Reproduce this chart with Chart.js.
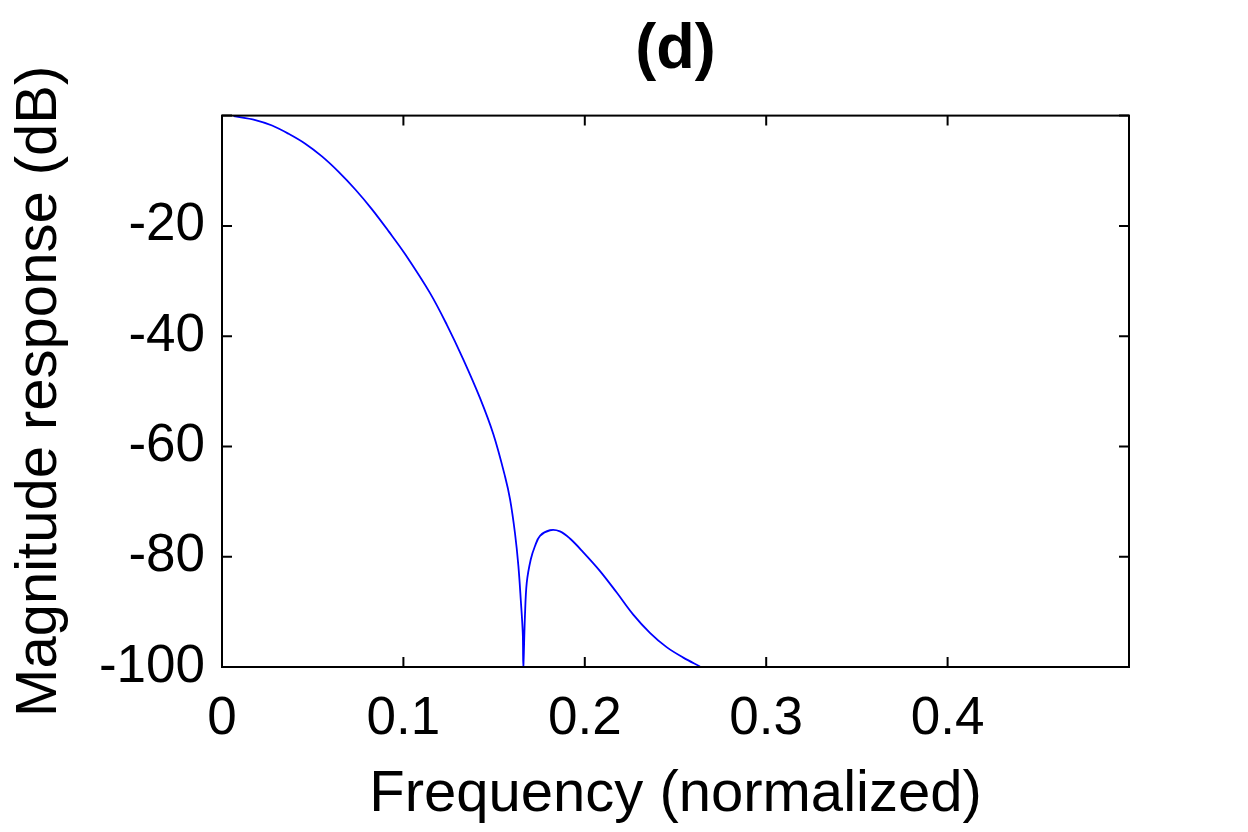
<!DOCTYPE html>
<html>
<head>
<meta charset="utf-8">
<script src="https://cdn.jsdelivr.net/npm/chart.js@4/dist/chart.umd.min.js"></script>
<style>
  html, body { margin: 0; padding: 0; background: #fff; }
  #wrap { width: 1248px; height: 832px; position: relative; }
</style>
</head>
<body>
<div id="wrap"><canvas id="chart"></canvas></div>
<script>
// values
const freqs = [0.0064, 0.0184, 0.0276, 0.0367, 0.0459, 0.0551, 0.0643, 0.0735, 0.0827, 0.0919,
  0.1011, 0.1147, 0.1239, 0.133, 0.1422, 0.1496, 0.156, 0.1588, 0.1615,
  0.1634, 0.1647, 0.1658, 0.1661, 0.167, 0.168, 0.1702, 0.1725, 0.1753, 0.1808,
  0.1863, 0.1918, 0.1992, 0.2084, 0.2176, 0.2267, 0.2359, 0.2451, 0.2543, 0.2635];
const magnitudeDb = [-0.1, -0.8, -1.8, -3.3, -5.1, -7.4, -10.2, -13.4, -17.0, -21.0,
  -25.2, -32.2, -37.9, -44.2, -51.2, -57.8, -65.4, -69.6, -75.7,
  -81.7, -87.8, -93.8, -100, -90.8, -84.7, -80.5, -78.1, -76.2, -75.2,
  -75.4, -76.7, -79.2, -82.6, -86.5, -90.5, -93.8, -96.4, -98.3, -99.9];
const xTicks = [0, 0.1, 0.2, 0.3, 0.4, 0.5];
const yTicks = [-100, -80, -60, -40, -20, 0];

Chart.defaults.font.family = '"Liberation Sans", Arial, Helvetica, sans-serif';
Chart.defaults.color = '#000';

// matlab style box with ticks pointing inside
const boxPlugin = {
  id: 'box',
  afterDraw(chart) {
    const { ctx, chartArea: a, scales } = chart;
    const len = 10;
    ctx.save();
    ctx.strokeStyle = '#000';
    ctx.lineWidth = 2;
    ctx.strokeRect(a.left, a.top, a.right - a.left, a.bottom - a.top);
    ctx.beginPath();
    scales.x.ticks.forEach(t => {
      const px = scales.x.getPixelForValue(t.value);
      ctx.moveTo(px, a.bottom); ctx.lineTo(px, a.bottom - len);
      ctx.moveTo(px, a.top); ctx.lineTo(px, a.top + len);
    });
    scales.y.ticks.forEach(t => {
      const py = scales.y.getPixelForValue(t.value);
      ctx.moveTo(a.left, py); ctx.lineTo(a.left + len, py);
      ctx.moveTo(a.right, py); ctx.lineTo(a.right - len, py);
    });
    ctx.stroke();
    ctx.restore();
  }
};

const ctx = document.getElementById('chart').getContext('2d');
const myChart = new Chart(ctx, {
  type: 'line',
  data: {
    datasets: [{
      data: freqs.map((f, i) => ({ x: f, y: magnitudeDb[i] })),
      borderColor: '#0000ff',
      borderWidth: 1.8,
      pointRadius: 0,
      tension: 0.35,
      fill: false
    }]
  },
  options: {
    responsive: true,
    maintainAspectRatio: false,
    animation: false,
    layout: { padding: { left: 0, right: 119, top: 0, bottom: 0 } },
    plugins: {
      legend: { display: false },
      tooltip: { enabled: false },
      title: {
        display: true,
        fullSize: false,
        text: '(d)',
        font: { size: 63, weight: 'bold', lineHeight: 1.2 },
        padding: { top: 13, bottom: 27 }
      }
    },
    scales: {
      x: {
        type: 'linear',
        min: 0,
        max: 0.5,
        afterFit(scale) { scale.height = 165; },
        afterBuildTicks(scale) { scale.ticks = xTicks.map(v => ({ value: v })); },
        grid: { display: false, drawTicks: false },
        border: { display: false },
        ticks: {
          padding: 21,
          font: { size: 53 },
          maxRotation: 0,
          autoSkip: false,
          callback: v => (v > 0.45 ? '' : String(v))
        },
        title: {
          display: true,
          text: 'Frequency (normalized)',
          font: { size: 58, lineHeight: 1.2 },
          padding: { top: 0, bottom: 2 }
        }
      },
      y: {
        min: -100,
        max: 0,
        afterFit(scale) { scale.width = 222; },
        afterBuildTicks(scale) { scale.ticks = yTicks.map(v => ({ value: v })); },
        grid: { display: false, drawTicks: false },
        border: { display: false },
        ticks: {
          padding: 17,
          font: { size: 53 },
          autoSkip: false,
          callback: v => (v === 0 ? '' : String(v))
        },
        title: {
          display: true,
          text: 'Magnitude response (dB)',
          font: { size: 58, lineHeight: 1.2 },
          padding: { top: 5, bottom: 0 }
        }
      }
    }
  },
  plugins: [boxPlugin]
});
</script>
</body>
</html>
